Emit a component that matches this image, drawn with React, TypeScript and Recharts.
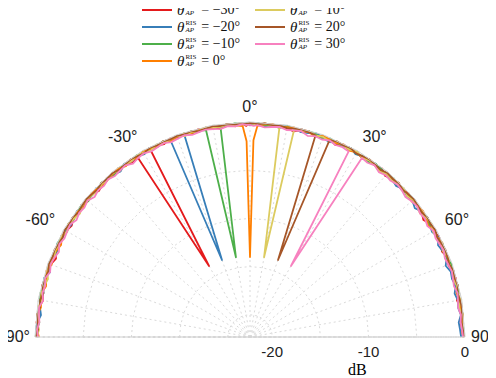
import React from "react";
import { RadarChart, Radar, PolarGrid, PolarAngleAxis, PolarRadiusAxis } from "recharts";

// incidence angle in degrees (2° steps, plus +/-1 around broadside)
const angles = [
  -90, -88, -86, -84, -82, -80, -78, -76, -74, -72, -70, -68,
  -66, -64, -62, -60, -58, -56, -54, -52, -50, -48, -46, -44,
  -42, -40, -38, -36, -34, -32, -30, -28, -26, -24, -22, -20,
  -18, -16, -14, -12, -10, -8, -6, -4, -2, -1, 0, 1,
  2, 4, 6, 8, 10, 12, 14, 16, 18, 20, 22, 24,
  26, 28, 30, 32, 34, 36, 38, 40, 42, 44, 46, 48,
  50, 52, 54, 56, 58, 60, 62, 64, 66, 68, 70, 72,
  74, 76, 78, 80, 82, 84, 86, 88, 90,
];

// gain in dB, one list per steering angle
const gainM30 = [
  -0.2, -0.3, -0.1, -0.4, -0.2, -0.5, -0.3, -0.1, -0.4, -0.2, -0.3, -0.6,
  -0.2, -0.4, -0.1, -0.3, -0.5, -0.2, -0.4, -0.1, -0.3, -0.2, -0.5, -0.3,
  -0.1, -0.4, -0.2, -0.3, -0.5, -0.4, -13.8, -0.3, -0.2, -0.4, -0.1, -0.3,
  -0.2, -0.4, -0.1, -0.3, -0.2, -0.5, -0.1, -0.3, -0.2, -0.4, -0.1, -0.2,
  -0.3, -0.1, -0.4, -0.2, -0.3, -0.5, -0.2, -0.1, -0.4, -0.3, -0.2, -0.5,
  -0.1, -0.3, -0.2, -0.4, -0.2, -0.3, -0.1, -0.5, -0.2, -0.4, -0.3, -0.1,
  -0.4, -0.2, -0.3, -0.6, -0.2, -0.4, -0.1, -0.3, -0.5, -0.2, -0.4, -0.3,
  -0.1, -0.4, -0.2, -0.5, -0.3, -0.2, -0.4, -0.3, -0.2,
];
const gainM20 = [
  -0.3, -0.1, -0.2, -0.5, -0.3, -0.2, -0.4, -0.2, -0.1, -0.5, -0.2, -0.3,
  -0.4, -0.1, -0.3, -0.2, -0.4, -0.3, -0.1, -0.4, -0.2, -0.3, -0.1, -0.4,
  -0.2, -0.3, -0.5, -0.1, -0.3, -0.2, -0.4, -0.1, -0.3, -0.2, -0.4, -13.8,
  -0.3, -0.2, -0.4, -0.1, -0.3, -0.2, -0.1, -0.3, -0.2, -0.1, -0.3, -0.2,
  -0.1, -0.4, -0.2, -0.3, -0.1, -0.2, -0.4, -0.3, -0.1, -0.2, -0.5, -0.2,
  -0.3, -0.1, -0.4, -0.2, -0.3, -0.1, -0.2, -0.4, -0.3, -0.5, -0.2, -0.4,
  -0.3, -0.6, -0.2, -0.4, -0.3, -0.5, -0.2, -0.6, -0.4, -0.3, -0.7, -0.4,
  -0.5, -0.3, -0.6, -0.4, -0.5, -0.3, -0.6, -0.5, -0.4,
];
const gainM10 = [
  -0.1, -0.2, -0.4, -0.1, -0.3, -0.2, -0.1, -0.4, -0.2, -0.3, -0.1, -0.2,
  -0.3, -0.1, -0.2, -0.4, -0.1, -0.3, -0.2, -0.1, -0.4, -0.2, -0.3, -0.1,
  -0.2, -0.4, -0.1, -0.3, -0.2, -0.1, -0.3, -0.2, -0.4, -0.1, -0.3, -0.2,
  -0.1, -0.3, -0.2, -0.4, -13.9, -0.3, -0.2, -0.1, -0.2, -0.1, -0.3, -0.2,
  -0.1, -0.3, -0.2, -0.4, -0.1, -0.2, -0.3, -0.1, -0.2, -0.4, -0.1, -0.3,
  -0.2, -0.1, -0.3, -0.2, -0.4, -0.1, -0.2, -0.3, -0.1, -0.2, -0.4, -0.2,
  -0.1, -0.3, -0.2, -0.1, -0.4, -0.2, -0.3, -0.1, -0.2, -0.3, -0.1, -0.2,
  -0.3, -0.1, -0.2, -0.4, -0.2, -0.1, -0.3, -0.2, -0.1,
];
const gain0 = [
  -0.4, -0.2, -0.3, -0.1, -0.4, -0.3, -0.2, -0.5, -0.3, -0.1, -0.4, -0.2,
  -0.3, -0.5, -0.2, -0.4, -0.1, -0.3, -0.2, -0.4, -0.3, -0.1, -0.2, -0.4,
  -0.3, -0.2, -0.1, -0.4, -0.2, -0.3, -0.1, -0.2, -0.3, -0.1, -0.4, -0.2,
  -0.1, -0.3, -0.2, -0.1, -0.3, -0.2, -0.1, -0.3, -0.4, -2.0, -14.0, -1.9,
  -0.4, -0.2, -0.1, -0.3, -0.2, -0.1, -0.3, -0.2, -0.4, -0.1, -0.2, -0.3,
  -0.1, -0.4, -0.2, -0.3, -0.1, -0.2, -0.4, -0.3, -0.2, -0.1, -0.3, -0.2,
  -0.4, -0.2, -0.1, -0.3, -0.5, -0.2, -0.3, -0.1, -0.4, -0.2, -0.3, -0.2,
  -0.3, -0.1, -0.4, -0.2, -0.3, -0.1, -0.2, -0.3, -0.2,
];
const gainP10 = [
  -0.2, -0.4, -0.2, -0.3, -0.1, -0.4, -0.2, -0.3, -0.5, -0.2, -0.1, -0.4,
  -0.2, -0.3, -0.1, -0.4, -0.2, -0.3, -0.5, -0.2, -0.1, -0.3, -0.4, -0.2,
  -0.3, -0.1, -0.4, -0.2, -0.3, -0.1, -0.2, -0.4, -0.1, -0.3, -0.2, -0.1,
  -0.4, -0.2, -0.3, -0.1, -0.2, -0.3, -0.1, -0.4, -0.2, -0.3, -0.1, -0.2,
  -0.3, -0.1, -0.2, -0.4, -13.9, -0.4, -0.2, -0.1, -0.3, -0.2, -0.4, -0.1,
  -0.2, -0.3, -0.1, -0.4, -0.2, -0.3, -0.5, -0.2, -0.4, -0.3, -0.1, -0.4,
  -0.2, -0.3, -0.5, -0.2, -0.1, -0.4, -0.3, -0.2, -0.4, -0.1, -0.3, -0.2,
  -0.4, -0.2, -0.3, -0.1, -0.4, -0.2, -0.3, -0.2, -0.1,
];
const gainP20 = [
  -0.1, -0.3, -0.2, -0.1, -0.3, -0.2, -0.4, -0.1, -0.2, -0.3, -0.1, -0.2,
  -0.1, -0.2, -0.3, -0.1, -0.2, -0.1, -0.3, -0.2, -0.1, -0.2, -0.3, -0.1,
  -0.2, -0.1, -0.3, -0.2, -0.1, -0.2, -0.3, -0.1, -0.2, -0.1, -0.2, -0.1,
  -0.2, -0.1, -0.3, -0.2, -0.1, -0.2, -0.1, -0.2, -0.1, -0.2, -0.1, -0.1,
  -0.2, -0.1, -0.2, -0.1, -0.3, -0.2, -0.1, -0.2, -0.3, -13.8, -0.3, -0.1,
  -0.2, -0.1, -0.3, -0.2, -0.1, -0.2, -0.3, -0.1, -0.2, -0.1, -0.3, -0.2,
  -0.1, -0.2, -0.3, -0.1, -0.2, -0.1, -0.3, -0.2, -0.1, -0.2, -0.3, -0.1,
  -0.2, -0.1, -0.3, -0.2, -0.1, -0.2, -0.3, -0.2, -0.1,
];
const gainP30 = [
  -0.3, -0.2, -0.4, -0.3, -0.2, -0.5, -0.3, -0.4, -0.2, -0.5, -0.3, -0.4,
  -0.6, -0.3, -0.5, -0.4, -0.3, -0.6, -0.4, -0.5, -0.3, -0.6, -0.4, -0.5,
  -0.3, -0.5, -0.4, -0.3, -0.6, -0.4, -0.3, -0.5, -0.4, -0.3, -0.5, -0.4,
  -0.3, -0.5, -0.4, -0.3, -0.4, -0.5, -0.3, -0.4, -0.2, -0.3, -0.3, -0.4,
  -0.3, -0.5, -0.4, -0.3, -0.5, -0.4, -0.3, -0.6, -0.4, -0.5, -0.3, -0.5,
  -0.4, -0.5, -13.8, -0.4, -0.5, -0.3, -0.6, -0.4, -0.5, -0.3, -0.4, -0.6,
  -0.4, -0.3, -0.5, -0.4, -0.6, -0.3, -0.5, -0.4, -0.3, -0.5, -0.4, -0.3,
  -0.4, -0.5, -0.3, -0.4, -0.5, -0.3, -0.4, -0.3, -0.2,
];

const angleTicks = [-90, -80, -70, -60, -50, -40, -30, -20, -10, 0, 10, 20, 30, 40, 50, 60, 70, 80, 90];
const radiusTicks = [-20, -15, -10, -5, 0];

const series = [
  { key: "m30", label: "= \u221230\u00b0", color: "#e41a1c", values: gainM30 },
  { key: "m20", label: "= \u221220\u00b0", color: "#377eb8", values: gainM20 },
  { key: "m10", label: "= \u221210\u00b0", color: "#4daf4a", values: gainM10 },
  { key: "z0", label: "= 0\u00b0", color: "#ff7f00", values: gain0 },
  { key: "p10", label: "= 10\u00b0", color: "#dccb5f", values: gainP10 },
  { key: "p20", label: "= 20\u00b0", color: "#a65628", values: gainP20 },
  { key: "p30", label: "= 30\u00b0", color: "#f781bf", values: gainP30 },
];

const data = angles.map((angle, i) => {
  const row: Record<string, number> = { angle };
  series.forEach((s) => {
    row[s.key] = s.values[i];
  });
  return row;
});

const sans = "'Liberation Sans', Arial, sans-serif";
const serif = "'Liberation Serif', 'Times New Roman', serif";

// radar closes its polygon, we want an open trace
const openTrace = (color: string) => (props: any) => {
  const pts = props.points || [];
  const d = pts.map((p: any, i: number) => `${i ? "L" : "M"}${p.x},${p.y}`).join("");
  return <path d={d} fill="none" stroke={color} strokeWidth={1.8} strokeLinejoin="round" />;
};

const AngleTick = (props: any) => {
  const { x, y, payload, textAnchor } = props;
  const v = payload.value;
  if (v % 30 !== 0) return <g />;
  const edge = Math.abs(v) === 90;
  const dx = v === -90 ? 5 : v === 90 ? -4 : 0;
  return (
    <text x={x + dx} y={y} dy={edge ? 5 : 0} textAnchor={textAnchor} fontSize={16} fontFamily={sans} fill="#222">
      {v}°
    </text>
  );
};

const RadiusTick = (props: any) => {
  const { x, y, payload } = props;
  if (payload.value % 10 !== 0) return <g />;
  return (
    <text x={x} y={y + 20} textAnchor="middle" fontSize={15} fontFamily={sans} fill="#222">
      {payload.value}
    </text>
  );
};

const Theta = () => (
  <span style={{ display: "inline-flex", alignItems: "center" }}>
    <span style={{ fontStyle: "italic", fontSize: 15 }}>θ</span>
    <span
      style={{
        display: "inline-flex",
        flexDirection: "column",
        fontSize: 7,
        lineHeight: "7px",
        marginLeft: 1,
      }}
    >
      <span>RIS</span>
      <span style={{ fontStyle: "italic" }}>AP</span>
    </span>
  </span>
);

const legendCols = [
  ["m30", "m20", "m10", "z0"],
  ["p10", "p20", "p30"],
];

function PatternLegend() {
  return (
    <>
      {legendCols.map((col, c) =>
        col.map((key, r) => {
          const s = series.find((x) => x.key === key)!;
          return (
            <div
              key={key}
              style={{
                position: "absolute",
                left: 142 + c * 113,
                top: r * 17 + 2,
                height: 16,
                display: "flex",
                alignItems: "center",
                fontFamily: serif,
                fontSize: 14,
                color: "#111",
                whiteSpace: "nowrap",
              }}
            >
              <span style={{ width: 30, height: 2, background: s.color, marginRight: 5 }} />
              <Theta />
              <span style={{ marginLeft: 5 }}>{s.label}</span>
            </div>
          );
        })
      )}
    </>
  );
}

export default function App() {
  // pull the chart over the body margin so edge labels have room
  return (
    <div style={{ position: "relative", width: 496, height: 378, margin: "-8px 0 0 -8px" }}>
      <RadarChart
        width={496}
        height={378}
        data={data}
        cx={250}
        cy={337}
        innerRadius={0}
        outerRadius={215}
        startAngle={180}
        endAngle={0}
        margin={{ top: 0, right: 0, bottom: 0, left: 0 }}
      >
        <PolarGrid gridType="polygon" stroke="#dadada" strokeDasharray="2 3" />
        <PolarAngleAxis
          dataKey="angle"
          type="number"
          domain={[-90, 90]}
          ticks={angleTicks}
          tickSize={10}
          tickLine={false}
          axisLineType="polygon"
          axisLine={{ stroke: "#cfcfcf" }}
          tick={<AngleTick />}
        />
        <PolarRadiusAxis
          angle={0}
          type="number"
          domain={[-22.3, 0]}
          ticks={radiusTicks}
          axisLine={false}
          tickLine={false}
          tick={<RadiusTick />}
        />
        {series.map((s) => (
          <Radar
            key={s.key}
            dataKey={s.key}
            stroke={s.color}
            fill="none"
            isAnimationActive={false}
            shape={openTrace(s.color)}
          />
        ))}
      </RadarChart>
      <PatternLegend />
      <div style={{ position: "absolute", left: 348, top: 362, fontFamily: serif, fontSize: 16, lineHeight: "16px" }}>
        dB
      </div>
    </div>
  );
}
